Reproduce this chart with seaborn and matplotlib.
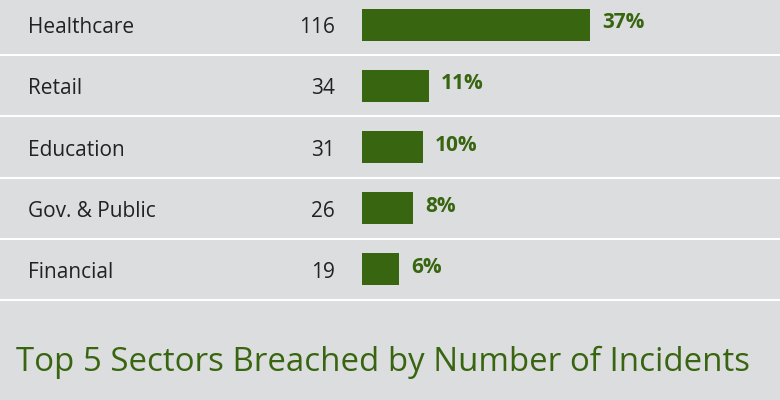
import matplotlib
matplotlib.use("Agg")
import matplotlib.pyplot as plt
import seaborn as sns
import pandas as pd

sectors = ["Healthcare", "Retail", "Education", "Gov. & Public", "Financial"]
incidents = [116, 34, 31, 26, 19]
shares = ["37%", "11%", "10%", "8%", "6%"]
title = "Top 5 Sectors Breached by Number of Incidents"

bg = "#dcdddf"
green = "#38650f"
df = pd.DataFrame({"sector": sectors, "n": incidents})

sns.set_style("white")
plt.rcParams["font.family"] = ["Open Sans", "DejaVu Sans"]

fig = plt.figure(figsize=(7.8, 4.0), dpi=100, facecolor=bg)
ax = fig.add_axes([0, 0.25, 1, 0.765])
ax.set_facecolor(bg)
px = 1.966  # pixels per incident
sns.barplot(data=df, y="sector", x="n", orient="h", color=green, width=0.52,
            saturation=1, linewidth=0, ax=ax)
ax.set_xlim(-362 / px, 418 / px)
ax.set_ylim(4.5, -0.5)
for i, (s, n, p) in enumerate(zip(sectors, incidents, shares)):
    ax.text((28 - 362) / px, i + 0.05, s, va="center", ha="left", fontsize=15, color="#222222")
    ax.text((335 - 362) / px, i + 0.05, str(n), va="center", ha="right", fontsize=15, color="#222222")
    ax.text(n + 12 / px, i - 0.03, p, va="center", ha="left", fontsize=15,
            fontweight="bold", color=green)
for y in [0.5, 1.5, 2.5, 3.5, 4.5]:
    ax.axhline(y, color="white", lw=1.5, clip_on=False)
ax.set_axis_off()
fig.text(0.02, 0.095, title, fontsize=23.8, color=green, ha="left", va="center")
fig.savefig("out.png", dpi=100, facecolor=bg)
